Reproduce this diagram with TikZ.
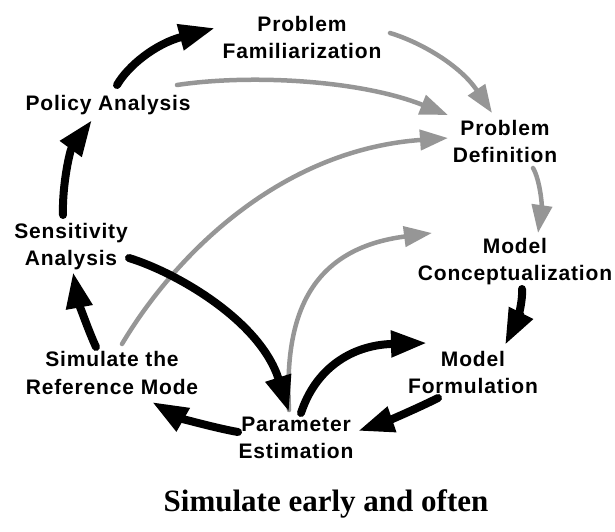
\documentclass[tikz,border=0pt]{standalone}
\usepackage{fontspec}
\setmainfont{Liberation Sans}
\newfontfamily\stagefont{Liberation Sans}[LetterSpace=4]
\newfontfamily\mottofont{Liberation Serif}
\usetikzlibrary{arrows.meta}
\definecolor{flowgray}{RGB}{150,150,150}
\tikzset{
  stage/.style={font=\stagefont\bfseries\fontsize{21}{27.5}\selectfont,
    align=center, inner sep=0pt},
  motto/.style={font=\mottofont\bfseries\fontsize{31}{36}\selectfont,
    inner sep=0pt, anchor=base},
  mainflow/.style={line width=8pt, line cap=round,
    -{Triangle[length=36pt,width=25pt]}},
  sideflow/.style={line width=4.5pt, line cap=round, draw=flowgray,
    -{Triangle[length=28pt,width=20pt]}},
}
\begin{document}
\begin{tikzpicture}[x=1pt,y=-1pt]
\useasboundingbox (0,0) rectangle (615,531);

% stages of the modelling cycle
\node[stage] (fam)  at (302,39.5)  {\strut Problem\\\strut Familiarization};
\node[stage] (pol)  at (108,104.5) {\strut Policy Analysis};
\node[stage] (def)  at (505,143.5) {\strut Problem\\\strut Definition};
\node[stage] (sen)  at (71,246.5)  {\strut Sensitivity\\\strut Analysis};
\node[stage] (con)  at (515,261.5) {\strut Model\\\strut Conceptualization};
\node[stage] (form) at (473,374.5) {\strut Model\\\strut Formulation};
\node[stage] (sim)  at (112,375)   {\strut Simulate the\\\strut Reference Mode};
\node[stage] (par)  at (296,439.5) {\strut Parameter\\\strut Estimation};
\node[motto] (mot)  at (326,511)   {Simulate early and often};

% connector ends beside the stage labels
\coordinate (pol-up)    at (117,85);
\coordinate (fam-in)    at (215,28);
\coordinate (sen-up)    at (63,215);
\coordinate (pol-in)    at (92,120);
\coordinate (sim-up)    at (96,347);
\coordinate (sen-in)    at (73,272);
\coordinate (par-left)  at (238,432);
\coordinate (sim-in)    at (152,402);
\coordinate (sen-out)   at (129,258);
\coordinate (par-in)    at (289,412);
\coordinate (par-up)    at (301,413);
\coordinate (form-in)   at (427,343);
\coordinate (form-out)  at (438,398);
\coordinate (par-right) at (358,431);
\coordinate (con-out)   at (522,289);
\coordinate (form-top)  at (505,345);
\coordinate (fam-out)   at (390,33);
\coordinate (def-top)   at (492,113);
\coordinate (pol-out)   at (177,85);
\coordinate (def-in)    at (448,115);
\coordinate (sim-out)   at (122,344);
\coordinate (def-low)   at (448,138);
\coordinate (par-top)   at (289,410);
\coordinate (con-in)    at (432,233);
\coordinate (def-out)   at (533,168);
\coordinate (con-top)   at (538,233);

% grey feedback links
\draw[sideflow] (fam-out) .. controls (420,42) and (460,65) .. (def-top);
\draw[sideflow] (pol-out) .. controls (250,74) and (360,80) .. (def-in);
\draw[sideflow] (sim-out) .. controls (175,255) and (280,150) .. (def-low);
\draw[sideflow] (par-top) .. controls (285,330) and (300,250) .. (con-in);
\draw[sideflow] (def-out) .. controls (540,180) and (542,205) .. (con-top);

% black main loop
\draw[mainflow] (pol-up) .. controls (128,66) and (155,44) .. (fam-in);
\draw[mainflow] (sen-up) .. controls (62,185) and (70,150) .. (pol-in);
\draw[mainflow] (sim-up) .. controls (88,330) and (78,300) .. (sen-in);
\draw[mainflow] (par-left) .. controls (215,428) and (180,418) .. (sim-in);
\draw[mainflow] (sen-out) .. controls (175,272) and (260,320) .. (par-in);
\draw[mainflow] (par-up) .. controls (315,370) and (350,345) .. (form-in);
\draw[mainflow] (form-out) .. controls (418,408) and (390,420) .. (par-right);
\draw[mainflow] (con-out) .. controls (523,305) and (515,325) .. (form-top);
\end{tikzpicture}
\end{document}
